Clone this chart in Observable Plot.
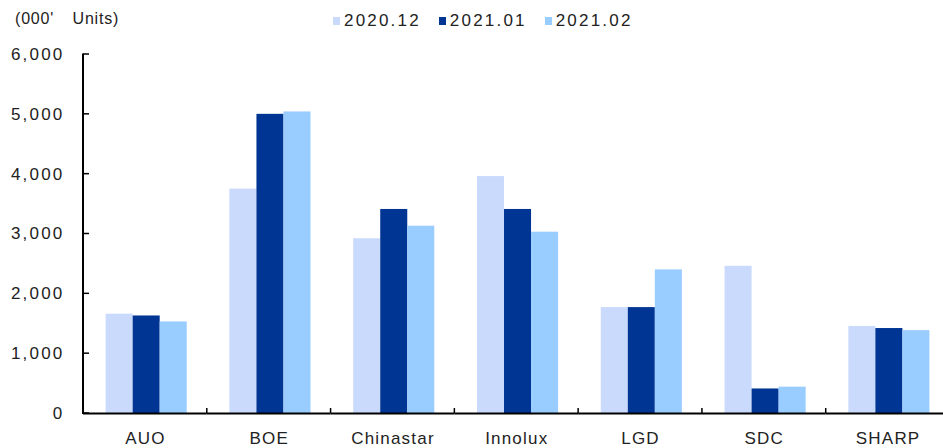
<!DOCTYPE html>
<html>
<head>
<meta charset="utf-8">
<script src="https://cdn.jsdelivr.net/npm/d3@7"></script>
<script src="https://cdn.jsdelivr.net/npm/@observablehq/plot@0.6"></script>
<style>
  html, body { margin: 0; padding: 0; background: #fff; }
  body { width: 943px; height: 448px; overflow: hidden; font-family: "Liberation Sans", Arial, sans-serif; color: #222; }
  #header { position: relative; height: 44px; }
  #unit { position: absolute; left: 15px; top: 10.5px; font-size: 16px; line-height: 16px; letter-spacing: 0.8px; word-spacing: 4px; white-space: pre; }
  #legend { position: absolute; left: 333px; top: 12px; display: flex; gap: 18px; font-size: 17px; line-height: 17px; letter-spacing: 2.2px; }
  #legend .item { display: flex; align-items: center; }
  #legend .sw { width: 7px; height: 8px; margin-right: 4px; }
  #chart svg { display: block; }
  #chart [aria-label="fx-axis tick label"] text { font-size: 17px; letter-spacing: 1.2px; }
  #chart [aria-label="y-axis tick label"] text { font-size: 17px; letter-spacing: 2.2px; }
</style>
</head>
<body>
<div id="header">
  <div id="unit"></div>
  <div id="legend"></div>
</div>
<div id="chart"></div>
<script>
const unitLabel = "(000'  Units)";
const companies = ["AUO", "BOE", "Chinastar", "Innolux", "LGD", "SDC", "SHARP"];
const periods = ["2020.12", "2021.01", "2021.02"];
const v202012 = [1660, 3750, 2920, 3960, 1770, 2460, 1455];
const v202101 = [1630, 5000, 3410, 3410, 1770, 410, 1420];
const v202102 = [1530, 5040, 3130, 3030, 2400, 440, 1385];
const yTicks = [0, 1000, 2000, 3000, 4000, 5000, 6000];
const colors = ["#C9DAFD", "#003594", "#99CCFF"];

const series = [v202012, v202101, v202102];
const data = companies.flatMap((c, i) =>
  periods.map((p, j) => ({company: c, period: p, value: series[j][i]}))
);

document.getElementById("unit").textContent = unitLabel;
const legend = document.getElementById("legend");
periods.forEach((p, j) => {
  const item = document.createElement("div");
  item.className = "item";
  const sw = document.createElement("span");
  sw.className = "sw";
  sw.style.background = colors[j];
  const t = document.createElement("span");
  t.textContent = p;
  item.appendChild(sw);
  item.appendChild(t);
  legend.appendChild(item);
});

const W = 943, H = 404;
const plot = Plot.plot({
  width: W,
  height: H,
  marginLeft: 83,
  marginRight: -6.5,
  marginTop: 10,
  marginBottom: 35,
  style: {fontFamily: "'Liberation Sans', Arial, sans-serif", fontSize: "17px", color: "#222", background: "white"},
  fx: {domain: companies, padding: 0, round: false, label: null, axis: "bottom", tickSize: 0, tickPadding: 18},
  x: {domain: periods, axis: null, round: false, paddingInner: 0, paddingOuter: 0.79, align: 0.53},
  y: {domain: [0, 6000], ticks: yTicks, tickFormat: d3.format(","), tickSize: 0, tickPadding: 19, label: null},
  color: {domain: periods, range: colors},
  marks: [
    Plot.barY(data, {fx: "company", x: "period", y: "value", fill: "period", inset: 0}),
    Plot.ruleY([0], {stroke: "#000", strokeWidth: 2})
  ]
});
document.getElementById("chart").appendChild(plot);

// axis line and inward ticks, placed with the plot's own scales
const ys = plot.scale("y");
const fxs = plot.scale("fx");
const yOf = v => ys.apply(v);
const bw = fxs.bandwidth != null ? fxs.bandwidth : (fxs.range[1] - fxs.range[0]) / companies.length;
const fxOf = c => fxs.apply ? fxs.apply(c) : fxs.range[0] + companies.indexOf(c) * bw;
const x0 = fxOf(companies[0]);
const g = d3.select(plot).append("g").attr("stroke", "#000").attr("fill", "none");
g.append("line").attr("x1", x0).attr("x2", x0).attr("y1", yOf(6000) - 0.5).attr("y2", yOf(0) + 1).attr("stroke-width", 2);
yTicks.forEach(t => {
  g.append("line").attr("x1", x0).attr("x2", x0 + 6).attr("y1", yOf(t)).attr("y2", yOf(t)).attr("stroke-width", 1.5);
});
companies.slice(1).forEach(c => {
  const x = fxOf(c);
  g.append("line").attr("x1", x).attr("x2", x).attr("y1", yOf(0)).attr("y2", yOf(0) - 5).attr("stroke-width", 1.5);
});
</script>
</body>
</html>
